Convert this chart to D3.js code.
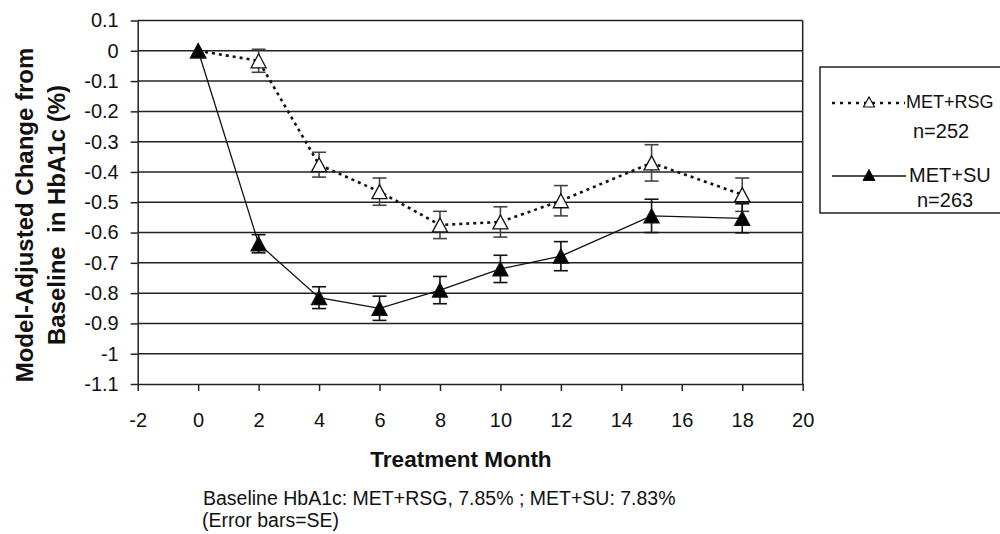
<!DOCTYPE html>
<html>
<head>
<meta charset="utf-8">
<script src="https://d3js.org/d3.v7.min.js"></script>
<style>
  body { margin: 0; background: #fff; }
  text { font-family: "Liberation Sans", Arial, sans-serif; fill: #111; }
</style>
</head>
<body>
<div id="chart"></div>
<script>
// data
var months = [0, 2, 4, 6, 8, 10, 12, 15, 18];
var rsgMean = [0, -0.033, -0.376, -0.465, -0.575, -0.565, -0.495, -0.37, -0.475];
var rsgSE   = [0, 0.038, 0.041, 0.045, 0.045, 0.05, 0.05, 0.06, 0.055];
var suMean  = [0, -0.637, -0.815, -0.85, -0.79, -0.72, -0.678, -0.545, -0.553];
var suSE    = [0, 0.03, 0.036, 0.04, 0.045, 0.045, 0.048, 0.055, 0.048];

var xTicks = [-2, 0, 2, 4, 6, 8, 10, 12, 14, 16, 18, 20];
var yTicks = [0.1, 0, -0.1, -0.2, -0.3, -0.4, -0.5, -0.6, -0.7, -0.8, -0.9, -1, -1.1];
var yTickLabels = ["0.1", "0", "-0.1", "-0.2", "-0.3", "-0.4", "-0.5", "-0.6", "-0.7", "-0.8", "-0.9", "-1", "-1.1"];

var svg = d3.select("#chart").append("svg")
    .attr("width", 1000)
    .attr("height", 534);

var x = d3.scaleLinear().domain([-2, 20]).range([137.7, 802.7]);
var y = d3.scaleLinear().domain([-1.1, 0.1]).range([384, 20.5]);

// gridlines
svg.append("g").selectAll("line")
    .data(yTicks.slice(0, -1))
  .enter().append("line")
    .attr("x1", x(-2)).attr("x2", x(20))
    .attr("y1", function(d) { return y(d); })
    .attr("y2", function(d) { return y(d); })
    .attr("stroke", "#222").attr("stroke-width", 1.5);

// right border
svg.append("line")
    .attr("x1", x(20)).attr("x2", x(20))
    .attr("y1", y(0.1)).attr("y2", y(-1.1))
    .attr("stroke", "#222").attr("stroke-width", 1.5);

// axes
var xAxis = svg.append("g")
    .attr("transform", "translate(0," + y(-1.1) + ")")
    .call(d3.axisBottom(x).tickValues(xTicks).tickSize(7).tickSizeOuter(0).tickPadding(22)
      .tickFormat(function(d) { return d < 0 ? "-" + Math.abs(d) : d; }));
xAxis.select(".domain").attr("stroke", "#222").attr("stroke-width", 1.5);
xAxis.selectAll(".tick line").attr("stroke", "#222").attr("stroke-width", 1.5);
xAxis.selectAll("text").style("font-size", "20px").attr("fill", "#222")
    .style("font-family", "Liberation Sans, Arial, sans-serif");

var yAxis = svg.append("g")
    .attr("transform", "translate(" + x(-2) + ",0)")
    .call(d3.axisLeft(y).tickValues(yTicks).tickSize(7).tickSizeOuter(0).tickPadding(12)
      .tickFormat(function(d, i) { return yTickLabels[i]; }));
yAxis.select(".domain").attr("stroke", "#222").attr("stroke-width", 1.5);
yAxis.selectAll(".tick line").attr("stroke", "#222").attr("stroke-width", 1.5);
yAxis.selectAll("text").style("font-size", "20px").attr("fill", "#222")
    .style("font-family", "Liberation Sans, Arial, sans-serif");

// axis titles
svg.append("text")
    .attr("x", 461).attr("y", 467)
    .attr("text-anchor", "middle")
    .style("font-size", "22.5px").style("font-weight", "bold")
    .text("Treatment Month");

var yTitle = svg.append("text")
    .attr("transform", "translate(33,215) rotate(-90)")
    .attr("text-anchor", "middle")
    .style("font-size", "24px").style("font-weight", "bold");
yTitle.append("tspan").attr("x", 0).attr("y", 0).text("Model-Adjusted Change from");
yTitle.append("tspan").attr("x", 0).attr("y", 32).attr("xml:space", "preserve").text("Baseline  in HbA1c (%)");

// footnote
svg.append("text").attr("x", 203).attr("y", 505)
    .style("font-size", "19.5px").text("Baseline HbA1c: MET+RSG, 7.85% ; MET+SU: 7.83%");
svg.append("text").attr("x", 202).attr("y", 527)
    .style("font-size", "19.5px").text("(Error bars=SE)");

var tri = function(w, h) {
  return "M0," + (-h / 2) + "L" + (w / 2) + "," + (h / 2) + "L" + (-w / 2) + "," + (h / 2) + "Z";
};

function drawSeries(means, ses, opts) {
  var pts = months.map(function(m, i) { return {m: m, v: means[i], se: ses[i]}; });

  svg.append("path")
      .datum(pts)
      .attr("fill", "none")
      .attr("stroke", opts.lineColor)
      .attr("stroke-width", opts.lineWidth)
      .attr("stroke-dasharray", opts.dash)
      .attr("d", d3.line().x(function(d) { return x(d.m); }).y(function(d) { return y(d.v); }));

  var eb = svg.append("g").selectAll("g")
      .data(pts.filter(function(d) { return d.se > 0; }))
    .enter().append("g")
      .attr("stroke", opts.errColor).attr("stroke-width", 1.6);
  eb.append("line")
      .attr("x1", function(d) { return x(d.m); }).attr("x2", function(d) { return x(d.m); })
      .attr("y1", function(d) { return y(d.v + d.se); }).attr("y2", function(d) { return y(d.v - d.se); });
  eb.append("line")
      .attr("x1", function(d) { return x(d.m) - 7; }).attr("x2", function(d) { return x(d.m) + 7; })
      .attr("y1", function(d) { return y(d.v + d.se); }).attr("y2", function(d) { return y(d.v + d.se); });
  eb.append("line")
      .attr("x1", function(d) { return x(d.m) - 7; }).attr("x2", function(d) { return x(d.m) + 7; })
      .attr("y1", function(d) { return y(d.v - d.se); }).attr("y2", function(d) { return y(d.v - d.se); });

  svg.append("g").selectAll("path")
      .data(pts)
    .enter().append("path")
      .attr("transform", function(d) { return "translate(" + x(d.m) + "," + y(d.v) + ")"; })
      .attr("d", tri(15, 14))
      .attr("fill", opts.fill)
      .attr("stroke", "#111")
      .attr("stroke-width", 1.3);
}

drawSeries(rsgMean, rsgSE, {lineColor: "#111", lineWidth: 2.6, dash: "3,4", errColor: "#444", fill: "#fff"});
drawSeries(suMean, suSE, {lineColor: "#111", lineWidth: 1.3, dash: null, errColor: "#111", fill: "#000"});

// legend
var leg = svg.append("g");
leg.append("rect")
    .attr("x", 820).attr("y", 67).attr("width", 200).attr("height", 146)
    .attr("fill", "#fff").attr("stroke", "#222").attr("stroke-width", 1.5);
leg.append("line").attr("x1", 832).attr("x2", 905).attr("y1", 103).attr("y2", 103)
    .attr("stroke", "#111").attr("stroke-width", 2.6).attr("stroke-dasharray", "3,5");
leg.append("path").attr("transform", "translate(869,102)").attr("d", tri(11, 10))
    .attr("fill", "#fff").attr("stroke", "#111").attr("stroke-width", 1.2);
leg.append("line").attr("x1", 832).attr("x2", 906).attr("y1", 176).attr("y2", 176)
    .attr("stroke", "#111").attr("stroke-width", 1.3);
leg.append("path").attr("transform", "translate(869,175)").attr("d", tri(12, 11))
    .attr("fill", "#000").attr("stroke", "#111").attr("stroke-width", 1);
leg.append("text").attr("x", 906).attr("y", 108).style("font-size", "18px").text("MET+RSG");
leg.append("text").attr("x", 913).attr("y", 138).style("font-size", "20px").text("n=252");
leg.append("text").attr("x", 909).attr("y", 182).style("font-size", "20px").text("MET+SU");
leg.append("text").attr("x", 917).attr("y", 207).style("font-size", "20px").text("n=263");
</script>
</body>
</html>
